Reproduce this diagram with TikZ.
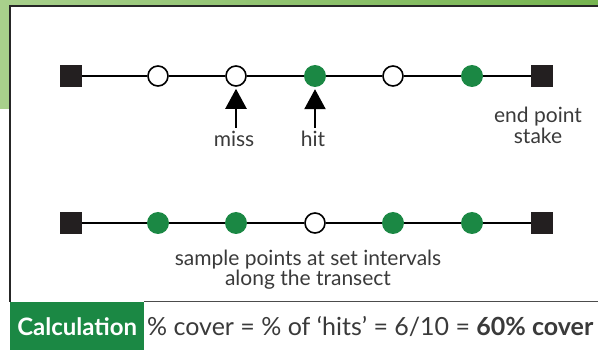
\documentclass[tikz,border=0pt]{standalone}
\usepackage{fontspec}
\setmainfont{Lato}
\usetikzlibrary{arrows.meta,positioning}
\definecolor{leaf}{RGB}{27,136,68}
\definecolor{bandl}{RGB}{168,208,140}
\definecolor{bandr}{RGB}{118,180,80}
\definecolor{ink}{RGB}{58,58,58}
\definecolor{stakecol}{RGB}{35,31,32}
\tikzset{
  stake/.style={rectangle, fill=stakecol, minimum size=22pt, inner sep=0pt},
  hitpt/.style={circle, fill=leaf, minimum size=22pt, inner sep=0pt},
  misspt/.style={circle, draw=black, fill=white, line width=1.6pt, minimum size=20pt, inner sep=0pt},
  tline/.style={line width=1.6pt, black},
  pointer/.style={-{Triangle[width=21pt,length=20pt]}, line width=2.4pt, black},
  lab/.style={font=\fontsize{21}{21}\selectfont, text=ink, align=center, inner sep=0pt},
  calc/.style={fill=leaf, text=white, font=\fontsize{24}{24}\selectfont\bfseries, minimum width=134pt, minimum height=48pt, inner sep=0pt},
}

\begin{document}
\begin{tikzpicture}[x=1pt, y=-1pt]
  \useasboundingbox (0,0) rectangle (598,350);
  % green band and frame
  \shade[left color=bandl, right color=bandr] (0,0) rectangle (598,6) (0,0) rectangle (10,109);
  \coordinate (fTL) at (10,6); \coordinate (fTR) at (598,6); \coordinate (fBL) at (10,302); \coordinate (fBR) at (598,302);
  \draw[line width=1.8pt, black!85] (fTR) -- (fTL) -- (fBL);
  % transect with hits and misses
  \node[stake] (a0) at (71,76) {};
  \node[misspt] (a1) at (158,76) {};
  \node[misspt] (a2) at (236,76) {};
  \node[hitpt] (a3) at (315,76) {};
  \node[misspt] (a4) at (393,76) {};
  \node[hitpt] (a5) at (472,76) {};
  \node[stake] (a6) at (542,76) {};
  \draw[tline] (a0) -- (a1); \draw[tline] (a1) -- (a2); \draw[tline] (a2) -- (a3);
  \draw[tline] (a3) -- (a4); \draw[tline] (a4) -- (a5); \draw[tline] (a5) -- (a6);
  \node[lab, anchor=base] (missl) at (234,147) {miss};
  \node[lab, anchor=base] (hitl) at (313,147) {hit};
  \coordinate (missft) at (236,128); \coordinate (hitft) at (315,128);
  \draw[pointer] (missft) -- ([yshift=-2pt]a2.south); \draw[pointer] (hitft) -- ([yshift=-2pt]a3.south);
  \node[lab, below=20pt of a6, xshift=-4pt] (endl) {end point\\stake};
  % transect with set intervals
  \node[stake] (b0) at (71,223) {};
  \node[hitpt] (b1) at (158,223) {};
  \node[hitpt] (b2) at (236,223) {};
  \node[misspt] (b3) at (315,223) {};
  \node[hitpt] (b4) at (393,223) {};
  \node[hitpt] (b5) at (472,223) {};
  \node[stake] (b6) at (542,223) {};
  \draw[tline] (b0) -- (b1); \draw[tline] (b1) -- (b2); \draw[tline] (b2) -- (b3);
  \draw[tline] (b3) -- (b4); \draw[tline] (b4) -- (b5); \draw[tline] (b5) -- (b6);
  \node[lab, anchor=north, font=\fontsize{21}{20}\selectfont] (sampl) at (308,250) {sample points at set intervals\\along the transect};
  % calculation strip
  \node[calc, anchor=north west] (calc) at (fBL) {Calculation};
  \node[lab, font=\fontsize{25}{25}\selectfont, anchor=base west] (sum) at (147,335) {\% cover = \% of ‘hits’ = 6/10 = \textbf{60\% cover}};
  \draw[line width=1pt, black!70] (calc.north east) -- (fBR);
\end{tikzpicture}
\end{document}
